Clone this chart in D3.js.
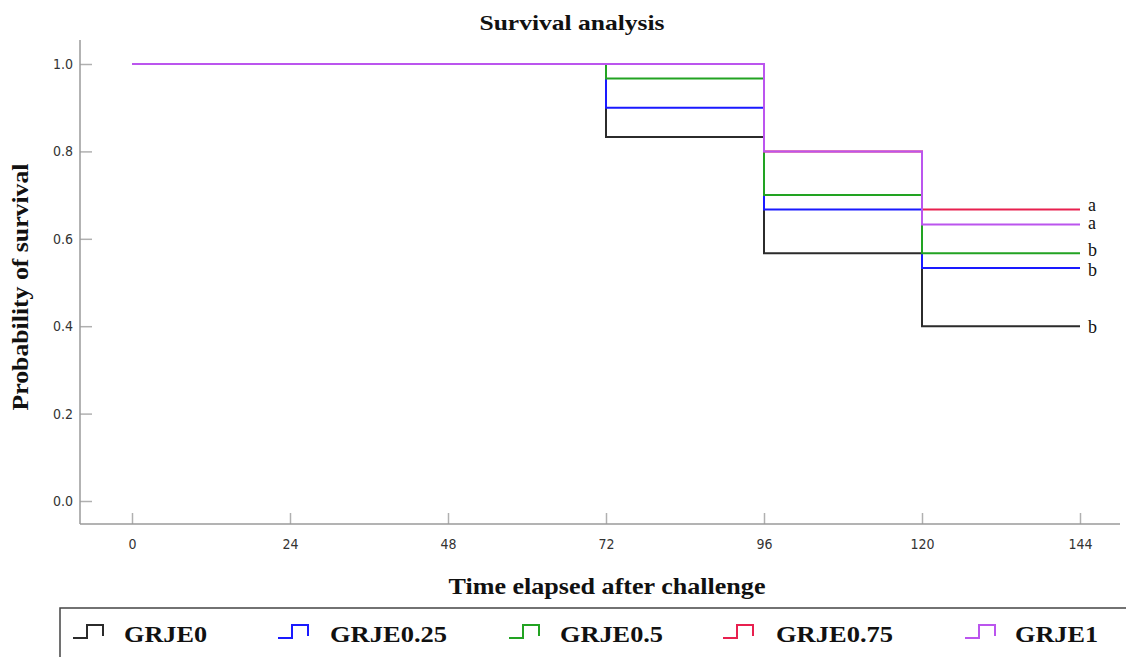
<!DOCTYPE html>
<html>
<head>
<meta charset="utf-8">
<script src="https://cdn.jsdelivr.net/npm/d3@7"></script>
<style>
  html, body { margin: 0; padding: 0; background: #fff; }
  svg { display: block; }
</style>
</head>
<body>
<svg id="chart" width="1126" height="657"></svg>
<script>
// ---- data ----
const times = [0, 72, 96, 120, 144];
const seriesNames = ["GRJE0", "GRJE0.25", "GRJE0.5", "GRJE0.75", "GRJE1"];
const GRJE0    = [1.0, 0.833, 0.567, 0.400, 0.400];
const GRJE025  = [1.0, 0.900, 0.667, 0.533, 0.533];
const GRJE05   = [1.0, 0.967, 0.700, 0.567, 0.567];
const GRJE075  = [1.0, 1.000, 0.800, 0.667, 0.667];
const GRJE1    = [1.0, 1.000, 0.800, 0.633, 0.633];
const seriesValues = [GRJE0, GRJE025, GRJE05, GRJE075, GRJE1];
const groupLetters = ["b", "b", "b", "a", "a"];
const xTicks = [0, 24, 48, 72, 96, 120, 144];
const yTicks = [0.0, 0.2, 0.4, 0.6, 0.8, 1.0];
const colors = ["#2b2b2b", "#1a1aff", "#22a322", "#e8204f", "#bb55ee"];

// ---- layout ----
const svg = d3.select("#chart");
const x = d3.scaleLinear().domain([0, 144]).range([132, 1080]);
const y = d3.scaleLinear().domain([0, 1]).range([501, 64]);
const axisColor = "#9a9a9a";
const narrow = "'Liberation Sans Narrow', 'Arial Narrow', 'DejaVu Sans Condensed', sans-serif";
const serif = "'Liberation Serif', 'Times New Roman', serif";

// title
svg.append("text").attr("x", 572).attr("y", 30).attr("text-anchor", "middle")
  .attr("font-family", serif).attr("font-weight", "bold").attr("font-size", 22)
  .attr("textLength", 185).attr("lengthAdjust", "spacingAndGlyphs")
  .attr("fill", "#111").text("Survival analysis");

// Y axis
const yAxis = d3.axisRight(y).tickValues(yTicks).tickSize(12).tickFormat(d3.format(".1f"));
const gy = svg.append("g").attr("transform", "translate(80,0)").call(yAxis);
gy.select(".domain").remove();
gy.selectAll(".tick line").attr("stroke", "#b0b0b0").attr("stroke-width", 1.5);
gy.selectAll(".tick text").attr("x", -7).attr("text-anchor", "end")
  .attr("font-family", narrow).attr("font-size", 14).attr("fill", "#333");
svg.append("line").attr("x1", 80).attr("x2", 80).attr("y1", 40).attr("y2", 524)
  .attr("stroke", axisColor).attr("stroke-width", 1.5);

// X axis
const xAxis = d3.axisTop(x).tickValues(xTicks).tickSize(11).tickFormat(d3.format("d"));
const gx = svg.append("g").attr("transform", "translate(0,524)").call(xAxis);
gx.select(".domain").remove();
gx.selectAll(".tick line").attr("stroke", "#b0b0b0").attr("stroke-width", 1.5);
gx.selectAll(".tick text").attr("y", 25).attr("dy", 0)
  .attr("font-family", narrow).attr("font-size", 14).attr("fill", "#333");
svg.append("line").attr("x1", 80).attr("x2", 1120).attr("y1", 524).attr("y2", 524)
  .attr("stroke", axisColor).attr("stroke-width", 1.5);

// axis titles
svg.append("text").attr("x", 607).attr("y", 594).attr("text-anchor", "middle")
  .attr("font-family", serif).attr("font-weight", "bold").attr("font-size", 23)
  .attr("textLength", 317).attr("lengthAdjust", "spacingAndGlyphs")
  .attr("fill", "#111").text("Time elapsed after challenge");
svg.append("text").attr("transform", "translate(28,287) rotate(-90)").attr("text-anchor", "middle")
  .attr("font-family", serif).attr("font-weight", "bold").attr("font-size", 23)
  .attr("textLength", 247).attr("lengthAdjust", "spacingAndGlyphs")
  .attr("fill", "#111").text("Probability of survival");

// survival curves
const line = d3.line().x(d => x(d[0])).y(d => y(d[1])).curve(d3.curveStepAfter);
seriesValues.forEach((vals, i) => {
  const pts = times.map((t, j) => [t, vals[j]]);
  svg.append("path").datum(pts).attr("d", line)
    .attr("fill", "none").attr("stroke", colors[i]).attr("stroke-width", 2);
});

// group letters
const letterNudge = [0, 2, -4, -5, -2];
seriesValues.forEach((vals, i) => {
  svg.append("text").attr("x", x(144) + 8).attr("y", y(vals[vals.length - 1]) + letterNudge[i])
    .attr("dy", "0.35em").attr("font-family", serif).attr("font-size", 18)
    .attr("fill", "#111").text(groupLetters[i]);
});

// legend
svg.append("rect").attr("x", 60).attr("y", 608).attr("width", 1080).attr("height", 60)
  .attr("fill", "none").attr("stroke", "#444").attr("stroke-width", 1.5);
const legendX = [73, 278, 509, 723, 965];
const textX = [124, 330, 560, 776, 1015];
const textW = [83, 117, 103, 117, 83];
seriesNames.forEach((name, i) => {
  const x0 = legendX[i];
  svg.append("path")
    .attr("d", `M${x0},638 H${x0 + 14} V625 H${x0 + 30} V636`)
    .attr("fill", "none").attr("stroke", colors[i]).attr("stroke-width", 2);
  svg.append("text").attr("x", textX[i]).attr("y", 642)
    .attr("font-family", serif).attr("font-weight", "bold").attr("font-size", 23)
    .attr("textLength", textW[i]).attr("lengthAdjust", "spacingAndGlyphs")
    .attr("fill", "#111").text(name);
});
</script>
</body>
</html>
